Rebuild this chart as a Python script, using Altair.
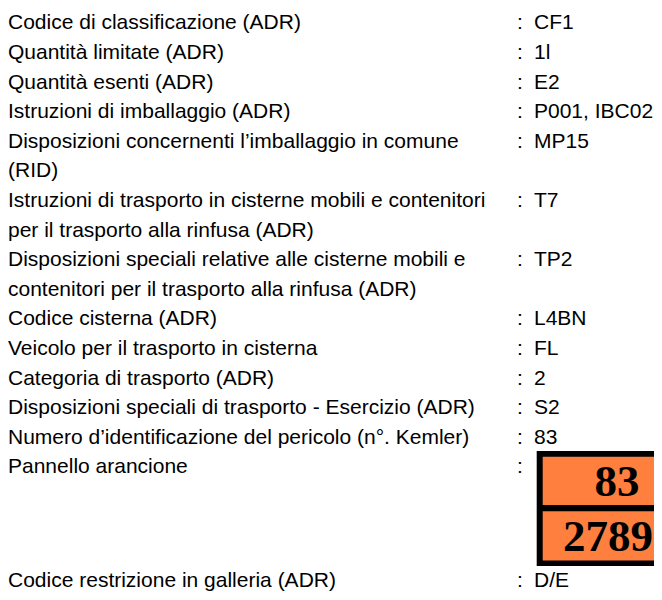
import altair as alt
import pandas as pd

# ---- content -------------------------------------------------------------
labels = [
    "Codice di classificazione (ADR)",
    "Quantità limitate (ADR)",
    "Quantità esenti (ADR)",
    "Istruzioni di imballaggio (ADR)",
    "Disposizioni concernenti l’imballaggio in comune",
    "(RID)",
    "Istruzioni di trasporto in cisterne mobili e contenitori",
    "per il trasporto alla rinfusa (ADR)",
    "Disposizioni speciali relative alle cisterne mobili e",
    "contenitori per il trasporto alla rinfusa (ADR)",
    "Codice cisterna (ADR)",
    "Veicolo per il trasporto in cisterna",
    "Categoria di trasporto (ADR)",
    "Disposizioni speciali di trasporto - Esercizio (ADR)",
    "Numero d’identificazione del pericolo (n°. Kemler)",
    "Pannello arancione",
    "Codice restrizione in galleria (ADR)",
]
label_rows = [0, 1, 2, 3, 4, 5, 6, 7, 8, 9, 10, 11, 12, 13, 14, 15, 18.834]

values = ["CF1", "1l", "E2", "P001, IBC02", "MP15", "T7", "TP2", "L4BN",
          "FL", "2", "S2", "83", "", "D/E"]
value_rows = [0, 1, 2, 3, 4, 6, 8, 10, 11, 12, 13, 14, 15, 18.834]

hazard_id = "83"
un_number = "2789"

# ---- layout ---------------------------------------------------------------
W, H = 646, 584
ROW_DOMAIN = [-0.72635, 19.0034]
FONT = "Liberation Sans"
SIZE = 21

xs = alt.Scale(domain=[0, W], nice=False, zero=False)
ys = alt.Scale(domain=ROW_DOMAIN, nice=False, zero=False, reverse=True)

lab_df = pd.DataFrame({"x": 0, "row": label_rows, "t": labels})
col_df = pd.DataFrame({"x": 509, "row": value_rows, "t": ":"})
val_df = pd.DataFrame({"x": 526, "row": value_rows, "t": values})

def text_layer(df, **kw):
    return alt.Chart(df).mark_text(
        align="left", baseline="alphabetic", font=FONT, fontSize=SIZE,
        color="#000000", **kw
    ).encode(
        x=alt.X("x:Q", scale=xs, axis=None),
        y=alt.Y("row:Q", scale=ys, axis=None),
        text="t:N",
    )

panel_outer = pd.DataFrame({"x": [528.7], "x2": [700], "y": [14.240], "y2": [18.125]})
panel_inner = pd.DataFrame({
    "x": [534.7, 534.7], "x2": [694, 694],
    "y": [14.432, 16.277], "y2": [16.061, 17.939],
})
panel_text = pd.DataFrame({"x": [609, 600], "row": [15.760, 17.622],
                           "t": [hazard_id, un_number]})

outer = alt.Chart(panel_outer).mark_rect(color="#000000").encode(
    x=alt.X("x:Q", scale=xs, axis=None), x2="x2:Q",
    y=alt.Y("y:Q", scale=ys, axis=None), y2="y2:Q",
)
inner = alt.Chart(panel_inner).mark_rect(color="#FF7F3F").encode(
    x=alt.X("x:Q", scale=xs, axis=None), x2="x2:Q",
    y=alt.Y("y:Q", scale=ys, axis=None), y2="y2:Q",
)
ptext = alt.Chart(panel_text).mark_text(
    align="center", baseline="alphabetic", font="Liberation Serif",
    fontSize=45, fontWeight="bold", color="#000000",
).encode(
    x=alt.X("x:Q", scale=xs, axis=None),
    y=alt.Y("row:Q", scale=ys, axis=None),
    text="t:N",
)

chart = alt.layer(
    text_layer(lab_df), text_layer(col_df), text_layer(val_df),
    outer, inner, ptext,
).properties(
    width=W, height=H, autosize=alt.AutoSizeParams(type="none"), padding=0,
    background="#ffffff",
).configure_view(stroke=None)

chart.save("out.html", embed_options={"renderer": "svg", "actions": False})
